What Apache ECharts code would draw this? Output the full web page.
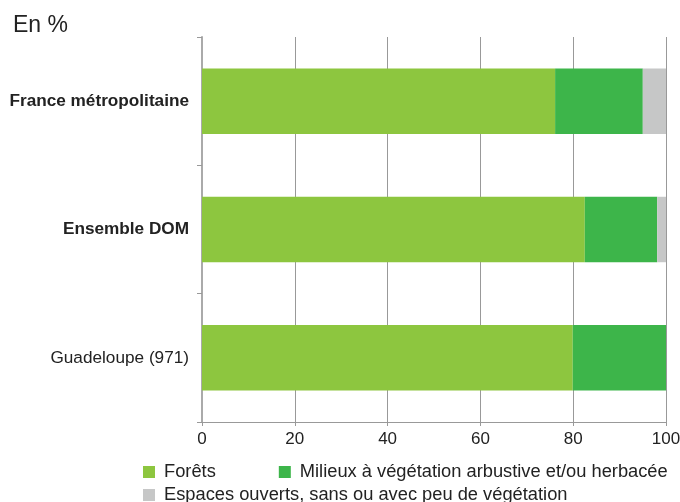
<!DOCTYPE html>
<html><head><meta charset="utf-8">
<script src="https://cdn.jsdelivr.net/npm/echarts@6/dist/echarts.min.js"></script>
<style>html,body{margin:0;padding:0;background:#fff;overflow:hidden}#c{width:680px;height:502px}</style>
</head><body><div id="c"></div>
<script>
const categories = ["France métropolitaine", "Ensemble DOM", "Guadeloupe (971)"];
const boldCategories = ["France métropolitaine", "Ensemble DOM"];
const forets = [76.1, 82.5, 79.9];
const milieux = [18.9, 15.6, 20.1];
const espaces = [5.0, 1.9, 0];
const seriesNames = ["Forêts", "Milieux à végétation arbustive et/ou herbacée", "Espaces ouverts, sans ou avec peu de végétation"];
const colors = ["#8DC63F", "#3DB54A", "#C6C7C7"];
const xTicks = [0, 20, 40, 60, 80, 100];

const chart = echarts.init(document.getElementById('c'), null, {renderer: 'canvas'});
const font = "Liberation Sans, Arial, Helvetica, sans-serif";
const vals = [forets, milieux, espaces];
chart.setOption({
  animation: false,
  textStyle: {fontFamily: font},
  title: {text: "En %", left: 8, top: 9, textStyle: {fontFamily: font, fontSize: 23, fontWeight: 'normal', color: '#222'}},
  grid: {left: 202, right: 14, top: 37, bottom: 80, containLabel: false, outerBoundsMode: 'none'},
  legend: [{
    data: [seriesNames[0], seriesNames[1]],
    left: 138, top: 458, itemWidth: 12, itemHeight: 12, itemGap: 63,
    icon: 'rect',
    textStyle: {fontFamily: font, fontSize: 18.3, color: '#222', padding: [0, 0, 0, 4]}
  }, {
    data: [seriesNames[2]],
    left: 138, top: 481, itemWidth: 12, itemHeight: 12,
    icon: 'rect',
    textStyle: {fontFamily: font, fontSize: 18.3, color: '#222', padding: [0, 0, 0, 4]}
  }],
  xAxis: {
    type: 'value', min: xTicks[0], max: xTicks[xTicks.length - 1], interval: 20,
    axisLine: {show: true, lineStyle: {color: '#999', width: 1}},
    axisTick: {show: true, length: 4, lineStyle: {color: '#999'}},
    axisLabel: {fontSize: 17, color: '#222', margin: 9, fontFamily: font},
    splitLine: {show: true, lineStyle: {color: '#999', width: 1}}
  },
  yAxis: {
    type: 'category', data: categories, inverse: true,
    axisLine: {show: true, lineStyle: {color: '#aaa', width: 2}},
    axisTick: {show: true, length: 5, lineStyle: {color: '#999'}},
    axisLabel: {
      margin: 13, fontSize: 17.2, color: '#222', fontFamily: font,
      formatter: v => boldCategories.includes(v) ? '{b|' + v + '}' : v,
      rich: {b: {fontWeight: 'bold', fontSize: 17.2, color: '#222', fontFamily: font}}
    }
  },
  series: seriesNames.map((n, i) => ({
    name: n, type: 'bar', stack: 'total', barWidth: '51%',
    itemStyle: {color: colors[i]},
    data: vals[i]
  }))
});
</script></body></html>
